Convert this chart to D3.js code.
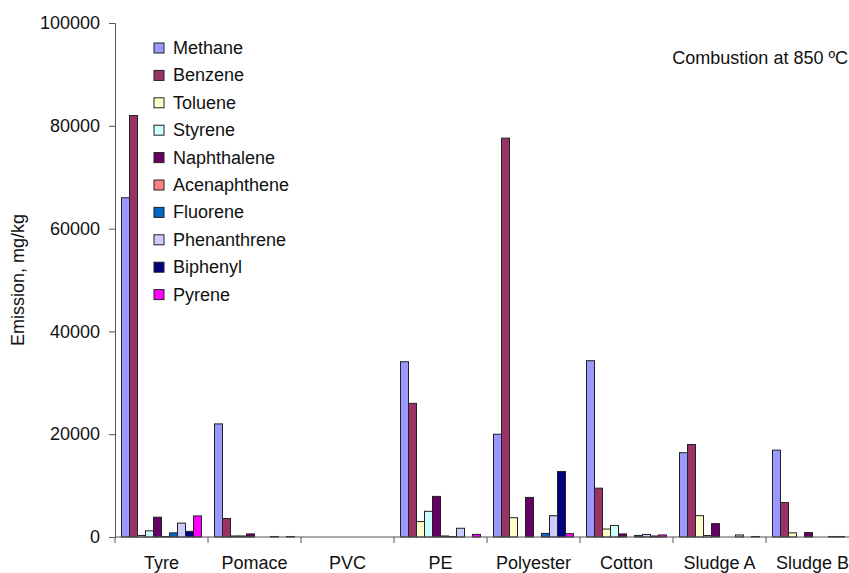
<!DOCTYPE html>
<html>
<head>
<meta charset="utf-8">
<script src="https://cdn.jsdelivr.net/npm/d3@7"></script>
<style>
  body { margin: 0; background: #fff; }
  svg text { font-family: "Liberation Sans", Arial, sans-serif; fill: #111; }
</style>
</head>
<body>
<div class="chart"></div>
<script>
// samples on the x axis
var categories = ["Tyre", "Pomace", "PVC", "PE", "Polyester", "Cotton", "Sludge A", "Sludge B"];

// emission per compound, mg/kg (one value per category)
var methane      = [66000, 22000, 0, 34100, 20000, 34300, 16400, 16900];
var benzene      = [82000, 3600, 0, 26000, 77600, 9500, 18000, 6700];
var toluene      = [300, 200, 0, 3000, 3750, 1550, 4150, 800];
var styrene      = [1200, 200, 0, 5000, 0, 2250, 300, 0];
var naphthalene  = [3850, 600, 0, 7900, 7700, 600, 2600, 850];
var acenaphthene = [100, 0, 0, 200, 0, 0, 0, 0];
var fluorene     = [800, 0, 0, 100, 700, 300, 0, 0];
var phenanthrene = [2700, 100, 0, 1700, 4150, 500, 400, 100];
var biphenyl     = [1100, 0, 0, 0, 12750, 200, 0, 100];
var pyrene       = [4100, 100, 0, 500, 650, 400, 100, 0];

var seriesNames = ["Methane", "Benzene", "Toluene", "Styrene", "Naphthalene",
                   "Acenaphthene", "Fluorene", "Phenanthrene", "Biphenyl", "Pyrene"];
var seriesValues = [methane, benzene, toluene, styrene, naphthalene,
                    acenaphthene, fluorene, phenanthrene, biphenyl, pyrene];
var seriesColors = ["#9999FF", "#993366", "#FFFFCC", "#CCFFFF", "#660066",
                    "#FF8080", "#0066CC", "#CCCCFF", "#000080", "#FF00FF"];

var yTicks = [0, 20000, 40000, 60000, 80000, 100000];

const width = 849, height = 573;
const margin = { left: 115, top: 23, bottom: 537, right: 859 };
const fontSize = "18px";

var svg = d3.select(".chart").append("svg")
  .attr("width", width)
  .attr("height", height);

var x = d3.scaleBand().domain(categories).range([margin.left, margin.right]);
var x1 = d3.scaleBand().domain(seriesNames)
  .range([6.5, x.bandwidth() - 6.5]);
var y = d3.scaleLinear().domain([0, 100000]).range([margin.bottom, margin.top]);
var color = d3.scaleOrdinal().domain(seriesNames).range(seriesColors);

// bars
var groups = svg.append("g")
  .selectAll("g")
  .data(categories)
  .enter()
  .append("g")
  .attr("transform", d => "translate(" + x(d) + ",0)");

groups.selectAll("rect")
  .data((c, i) => seriesNames.map((s, k) => ({ name: s, value: seriesValues[k][i] })))
  .enter()
  .append("rect")
  .filter(d => d.value > 0)
  .attr("x", d => x1(d.name))
  .attr("y", d => y(d.value))
  .attr("width", x1.bandwidth())
  .attr("height", d => margin.bottom - y(d.value))
  .attr("fill", d => color(d.name))
  .attr("stroke", "#222")
  .attr("stroke-width", 1);

// y axis
var yAxis = svg.append("g")
  .attr("transform", "translate(" + margin.left + ",0)")
  .call(d3.axisLeft(y).tickValues(yTicks).tickSize(6).tickPadding(9).tickFormat(d3.format("d")));
yAxis.select(".domain").attr("stroke", "#555");
yAxis.selectAll(".tick line").attr("stroke", "#555");
yAxis.selectAll("text").style("font-size", fontSize).attr("fill", "#111");

// x axis (ticks between categories)
var xAxis = svg.append("g")
  .attr("transform", "translate(0," + margin.bottom + ")");
xAxis.append("line")
  .attr("x1", margin.left).attr("x2", margin.right)
  .attr("stroke", "#555");
xAxis.selectAll(".sep")
  .data(categories)
  .enter()
  .append("line")
  .attr("x1", d => x(d)).attr("x2", d => x(d))
  .attr("y1", 0).attr("y2", 6)
  .attr("stroke", "#555");
xAxis.selectAll(".lab")
  .data(categories)
  .enter()
  .append("text")
  .attr("x", d => x(d) + x.bandwidth() / 2)
  .attr("y", 32)
  .attr("text-anchor", "middle")
  .style("font-size", fontSize)
  .text(d => d);

// axis title
svg.append("text")
  .attr("transform", "translate(24," + ((margin.top + margin.bottom) / 2) + ") rotate(-90)")
  .attr("text-anchor", "middle")
  .style("font-size", fontSize)
  .text("Emission, mg/kg");

// annotation
svg.append("text")
  .attr("x", 848)
  .attr("y", 64)
  .attr("text-anchor", "end")
  .style("font-size", fontSize)
  .text("Combustion at 850 ºC");

// legend
var legend = svg.append("g")
  .selectAll("g")
  .data(seriesNames)
  .enter()
  .append("g")
  .attr("transform", (d, i) => "translate(154," + (48 + i * 27.4) + ")");

legend.append("rect")
  .attr("x", 0).attr("y", -5)
  .attr("width", 10).attr("height", 10)
  .attr("fill", d => color(d))
  .attr("stroke", "#222");

legend.append("text")
  .attr("x", 19)
  .attr("y", 6)
  .style("font-size", fontSize)
  .text(d => d);
</script>
</body>
</html>
